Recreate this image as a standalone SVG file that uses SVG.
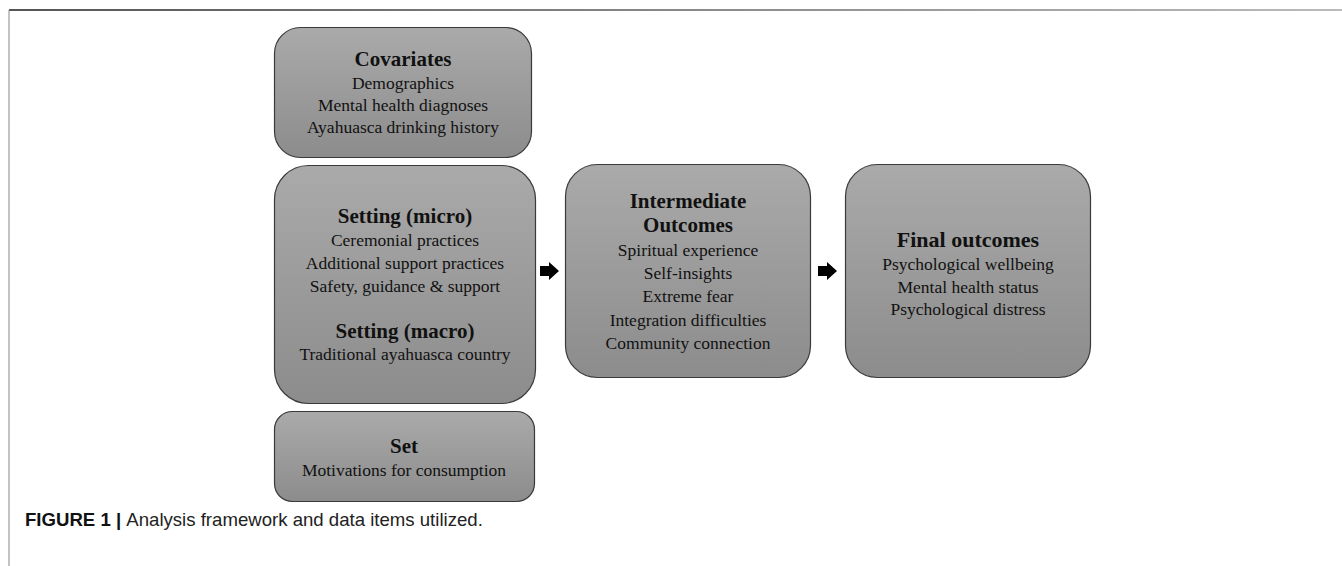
<svg xmlns="http://www.w3.org/2000/svg" width="1342" height="566" viewBox="0 0 1342 566">
<defs>
<linearGradient id="boxfill" x1="0" y1="0" x2="0" y2="1">
<stop offset="0" stop-color="#aaaaaa"/>
<stop offset="1" stop-color="#8c8c8c"/>
</linearGradient>
<linearGradient id="topline" x1="0" y1="0" x2="1" y2="0">
<stop offset="0" stop-color="#555555"/>
<stop offset="1" stop-color="#bbbbbb"/>
</linearGradient>
<style>
.box{fill:url(#boxfill);stroke:#3a3a3a;stroke-width:1.2}
.t{font-family:"Liberation Serif","Times New Roman",serif;text-anchor:middle;fill:#111}
.h{font-size:21px;font-weight:bold}
.i{font-size:17.5px}
.arr{fill:#000}
.cap{font-family:"Liberation Sans",Arial,sans-serif;font-size:18.6px;fill:#222}
</style>
</defs>
<rect x="9" y="9" width="1333" height="2" fill="url(#topline)"/>
<rect x="8.5" y="10" width="1" height="556" fill="#888"/>

<g id="covariates">
<rect class="box" x="274.5" y="27.5" width="257" height="130" rx="26"/>
<text class="t h" x="403" y="66">Covariates</text>
<text class="t i" x="403" y="89">Demographics</text>
<text class="t i" x="403" y="111">Mental health diagnoses</text>
<text class="t i" x="403" y="133">Ayahuasca drinking history</text>
</g>

<g id="setting">
<rect class="box" x="274.5" y="165.5" width="261" height="238" rx="34"/>
<text class="t h" x="405" y="223">Setting (micro)</text>
<text class="t i" x="405" y="246">Ceremonial practices</text>
<text class="t i" x="405" y="269">Additional support practices</text>
<text class="t i" x="405" y="292">Safety, guidance &amp; support</text>
<text class="t h" x="405" y="338">Setting (macro)</text>
<text class="t i" x="405" y="360">Traditional ayahuasca country</text>
</g>

<g id="set">
<rect class="box" x="274.5" y="411.5" width="260" height="90" rx="18"/>
<text class="t h" x="404" y="453">Set</text>
<text class="t i" x="404" y="476">Motivations for consumption</text>
</g>

<g id="intermediate">
<rect class="box" x="565.5" y="164.5" width="245" height="213" rx="32"/>
<text class="t h" x="688" y="208">Intermediate</text>
<text class="t h" x="688" y="232">Outcomes</text>
<text class="t i" x="688" y="256">Spiritual experience</text>
<text class="t i" x="688" y="279">Self-insights</text>
<text class="t i" x="688" y="302">Extreme fear</text>
<text class="t i" x="688" y="326">Integration difficulties</text>
<text class="t i" x="688" y="349">Community connection</text>
</g>

<g id="final">
<rect class="box" x="845.5" y="164.5" width="245" height="213" rx="32"/>
<text class="t" x="968" y="247" style="font-size:22px;font-weight:bold">Final outcomes</text>
<text class="t i" x="968" y="270">Psychological wellbeing</text>
<text class="t i" x="968" y="293">Mental health status</text>
<text class="t i" x="968" y="315">Psychological distress</text>
</g>

<g id="connectors">
<polygon class="arr" points="540,266 549,266 549,262 559,271 549,280 549,276 540,276"/>
<polygon class="arr" points="818,266 827,266 827,262 837,271 827,280 827,276 818,276"/>
</g>

<text class="cap" x="25" y="526"><tspan font-weight="bold" fill="#111">FIGURE 1 | </tspan>Analysis framework and data items utilized.</text>
</svg>
